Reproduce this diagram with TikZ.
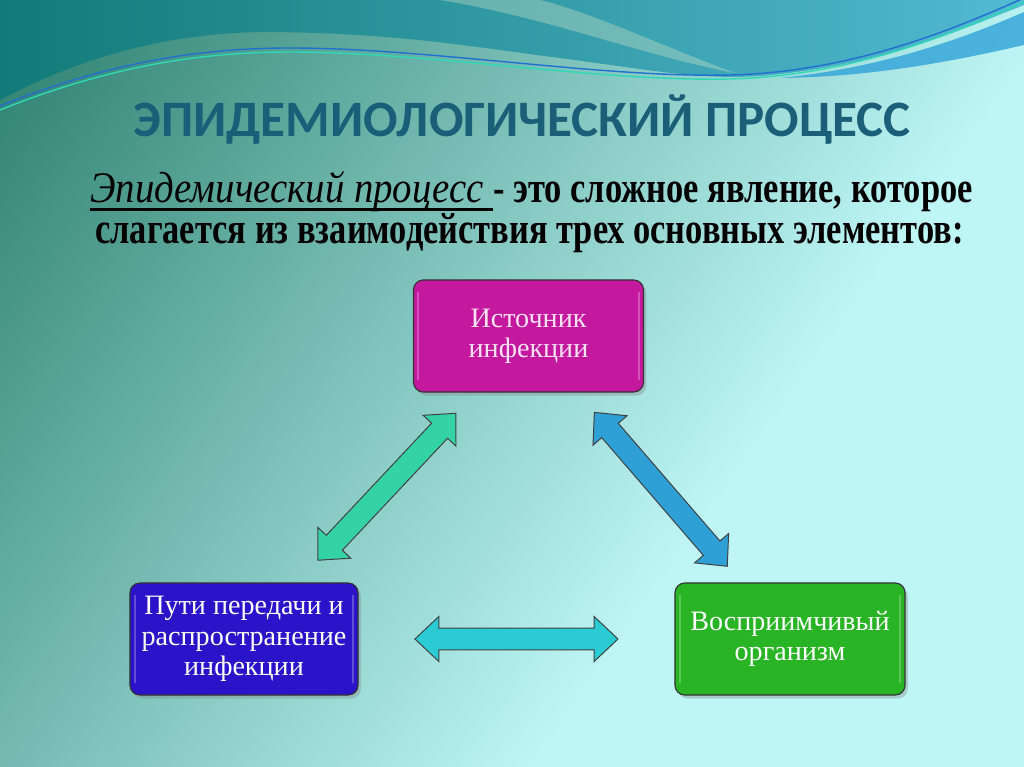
\documentclass[tikz,border=0pt]{standalone}
\usepackage{fontspec}
\setmainfont{Liberation Serif}
\newfontfamily\titlefont{Carlito}
\newfontfamily\subfont[FakeStretch=0.79]{Liberation Serif}
\newfontfamily\subitfont[FakeStretch=0.89]{Liberation Serif Italic}
\usetikzlibrary{calc,shadows}

\definecolor{bgdark}{HTML}{2A7E6C}
\definecolor{bgmid}{HTML}{9ADEDA}
\definecolor{bglight}{HTML}{BEF6F6}
\definecolor{topleft}{HTML}{127A78}
\definecolor{topright}{HTML}{52BAD2}
\definecolor{ribbon}{HTML}{D8E8C8}
\definecolor{band}{HTML}{38A6DA}
\definecolor{lineteal}{HTML}{30D8B8}
\definecolor{lineblue}{HTML}{2070D0}
\definecolor{titleblue}{HTML}{1A5E78}
\definecolor{srcmag}{HTML}{C4189E}
\definecolor{srcpink}{HTML}{F8E2F4}
\definecolor{routeblue}{HTML}{2B13C9}
\definecolor{hostgreen}{HTML}{28B424}
\definecolor{arrmint}{HTML}{34D3A6}
\definecolor{arrsky}{HTML}{2EA0D6}
\definecolor{arrcyan}{HTML}{2ACBD3}

\newcommand{\ulbold}[1]{\setbox0\hbox{#1}\rlap{\rule[-6pt]{\wd0}{2.2pt}}\box0}

\newcommand{\blockarrow}[3]{%
  \coordinate (ha) at ($(#1)!17pt!(#2)$);
  \coordinate (hb) at ($(#2)!17pt!(#1)$);
  \filldraw[fill=#3, draw=black!75, line width=0.7pt]
    (#1) -- ($(ha)!16pt!90:(#2)$) -- ($(ha)!7.8pt!90:(#2)$)
    -- ($(hb)!7.8pt!-90:(#1)$) -- ($(hb)!16pt!-90:(#1)$) -- (#2)
    -- ($(hb)!16pt!90:(#1)$) -- ($(hb)!7.8pt!90:(#1)$)
    -- ($(ha)!7.8pt!-90:(#2)$) -- ($(ha)!16pt!-90:(#2)$) -- cycle;
}

\tikzset{
  box/.style={draw=black!80, line width=0.8pt, rounded corners=7pt,
    minimum width=5.75cm, minimum height=2.8cm, align=center, text=white,
    font=\fontsize{20}{21.5}\selectfont,
    drop shadow={shadow xshift=2pt, shadow yshift=-2.5pt, opacity=0.35},
    path picture={
      \draw[white, opacity=0.25, line width=1.5pt, line cap=round]
        ($(path picture bounding box.north west)+(3.5pt,-9pt)$) -- ($(path picture bounding box.south west)+(3.5pt,9pt)$)
        ($(path picture bounding box.north east)+(-3.5pt,-9pt)$) -- ($(path picture bounding box.south east)+(-3.5pt,9pt)$);
    }},
}

\begin{document}
\begin{tikzpicture}[x=0.025cm, y=-0.025cm]
\useasboundingbox (0,0) rectangle (1024,767);

\begin{scope}
\clip (0,0) rectangle (1024,767);
\fill[bglight] (0,0) rectangle (1024,767);
\begin{scope}[transform canvas={rotate=-35}]
  \shade[left color=bgdark, middle color=bgmid, right color=bglight] (0,-1500) rectangle (880,1500);
\end{scope}

% waves
\shade[left color=topleft, right color=topright] (0,0) -- (0,100)
  .. controls (90,52) and (180,32) .. (270,32)
  .. controls (400,33) and (480,48) .. (560,58)
  .. controls (650,70) and (700,80) .. (760,76)
  .. controls (880,66) and (960,30) .. (1024,5) -- (1024,0) -- cycle;
\fill[ribbon, opacity=0.35] (440,0) .. controls (550,18) and (640,55) .. (735,73)
  .. controls (660,45) and (590,12) .. (540,0) -- cycle;
\fill[band, opacity=0.85] (780,78) .. controls (880,68) and (960,40) .. (1024,12)
  -- (1024,45) .. controls (950,62) and (870,77) .. (780,78) -- cycle;
\foreach \dy/\col in {0/lineblue, 4/lineteal} {
  \draw[\col, line width=1pt] (0,106+\dy)
    .. controls (100,66+\dy) and (190,48+\dy) .. (290,48+\dy)
    .. controls (430,48+\dy) and (600,78+\dy) .. (730,75+\dy)
    .. controls (850,72+\dy) and (950,31+\dy) .. (1024,\dy-2);
}
\end{scope}

\node[font=\titlefont\bfseries\fontsize{36.3}{40}\selectfont, text=titleblue, anchor=base] (title) at (522,137) {ЭПИДЕМИОЛОГИЧЕСКИЙ ПРОЦЕСС};

\node[anchor=base west, inner sep=0, font=\subfont\fontsize{31}{36}\selectfont] (defline1) at (90,203)
  {\ulbold{\subitfont Эпидемический процесс }\textbf{- это сложное явление, которое}};
\node[anchor=base west, inner sep=0, font=\subfont\fontsize{31}{36}\selectfont] (defline2) at (95,243)
  {\textbf{слагается из взаимодействия трех основных элементов:}};

\node[box, fill=srcmag, text=srcpink] (source) at (528.5,336) {Источник\\инфекции};
\node[box, fill=routeblue, minimum width=5.7cm] (routes) at (244,639) {Пути передачи и\\распространение\\инфекции};
\node[box, fill=hostgreen] (host) at (790,639) {Восприимчивый\\организм};

\coordinate (mintA) at ($(routes)!0.26!(source)$);
\coordinate (mintB) at ($(routes)!0.745!(source)$);
\coordinate (skyA) at ($(source)!0.252!(host)$);
\coordinate (skyB) at ($(source)!0.76!(host)$);
\coordinate (cyanA) at ($(routes)!0.313!(host)$);
\coordinate (cyanB) at ($(routes)!0.685!(host)$);

\blockarrow{mintA}{mintB}{arrmint}
\blockarrow{skyA}{skyB}{arrsky}
\blockarrow{cyanA}{cyanB}{arrcyan}
\end{tikzpicture}
\end{document}
